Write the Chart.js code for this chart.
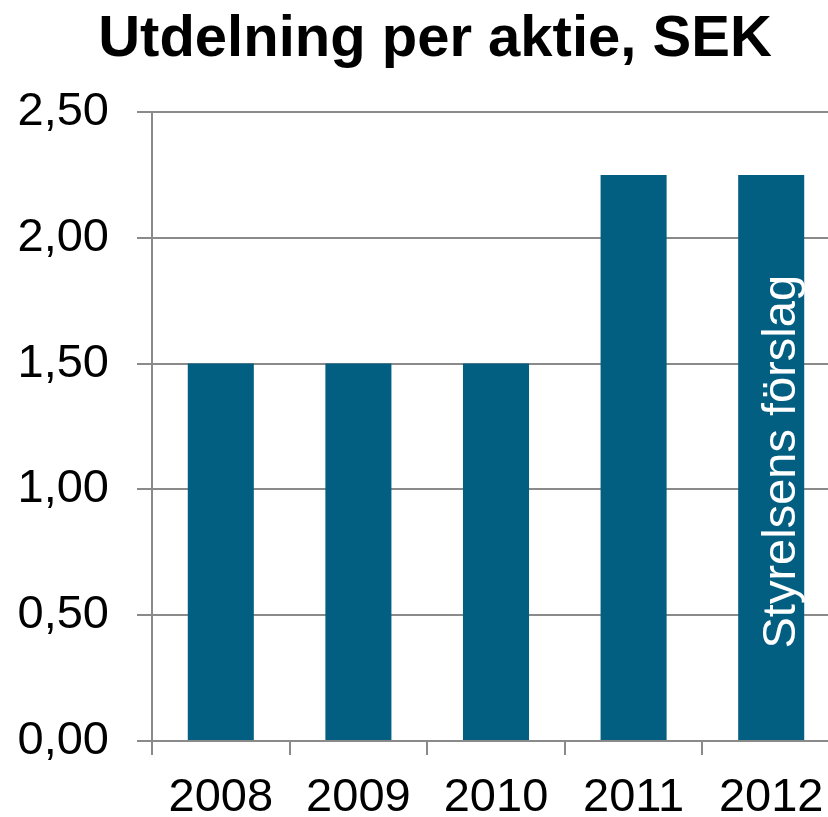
<!DOCTYPE html>
<html>
<head>
<meta charset="utf-8">
<script src="https://cdn.jsdelivr.net/npm/chart.js@4"></script>
<style>
	html, body { margin: 0; padding: 0; background: #fff; overflow: hidden; }
	#wrap { width: 828px; height: 817px; overflow: hidden; }
	#wrap canvas { display: block; }
</style>
</head>
<body>
<div id="wrap"><canvas id="chart" width="842" height="817" style="width:842px;height:817px"></canvas></div>
<script>
const titleText = 'Utdelning per aktie, SEK';
const years = ['2008', '2009', '2010', '2011', '2012'];
const dividend = [1.50, 1.50, 1.50, 2.25, 2.25];
const yTicks = [0, 0.5, 1.0, 1.5, 2.0, 2.5];
const barNote = 'Styrelsens förslag';
const noteIndex = 4;

const font = '"Liberation Sans", Arial, sans-serif';
const gridColor = '#8a8a8a';

// title + rotated note in last bar
const extras = {
	id: 'extras',
	afterDraw(chart) {
		let ctx = chart.ctx;
		let xs = chart.scales.x;
		let ys = chart.scales.y;
		ctx.save();
		ctx.fillStyle = '#000';
		ctx.font = 'bold 58px ' + font;
		ctx.textAlign = 'center';
		ctx.textBaseline = 'alphabetic';
		ctx.fillText(titleText, 435, 56);

		ctx.translate(xs.getPixelForValue(noteIndex) + 24, ys.getPixelForValue(1.11));
		ctx.rotate(-Math.PI / 2);
		ctx.fillStyle = '#fff';
		ctx.font = '47px ' + font;
		ctx.fillText(barNote, 0, 0);
		ctx.restore();
	}
};

new Chart(document.getElementById('chart'), {
	type: 'bar',
	data: {
		labels: years,
		datasets: [{
			data: dividend,
			backgroundColor: '#035F82',
			barPercentage: 0.48,
			categoryPercentage: 1.0,
		}]
	},
	options: {
		responsive: false,
		animation: false,
		layout: { padding: { top: 112, right: 2, left: 0, bottom: 0 } },
		plugins: {
			legend: { display: false },
			title: { display: false },
			tooltip: { enabled: false },
		},
		scales: {
			x: {
				grid: {
					offset: true,
					drawOnChartArea: false,
					drawTicks: true,
					tickLength: 14,
					color: gridColor,
					lineWidth: 2,
				},
				border: { color: gridColor, width: 2 },
				ticks: {
					color: '#000',
					font: { family: font, size: 47 },
					padding: 15,
					maxRotation: 0,
				},
				afterFit(scale) { scale.height = 76; }
			},
			y: {
				min: 0,
				max: 2.5,
				afterBuildTicks(scale) { scale.ticks = yTicks.map(v => ({value: v})); },
				grid: {
					color: gridColor,
					lineWidth: 2,
					drawTicks: true,
					tickLength: 15,
				},
				border: { color: gridColor, width: 2 },
				ticks: {
					color: '#000',
					font: { family: font, size: 47 },
					padding: 28,
					callback: (value) => value.toFixed(2).replace('.', ','),
				},
				afterFit(scale) { scale.width = 152; }
			}
		}
	},
	plugins: [extras]
});
</script>
</body>
</html>
